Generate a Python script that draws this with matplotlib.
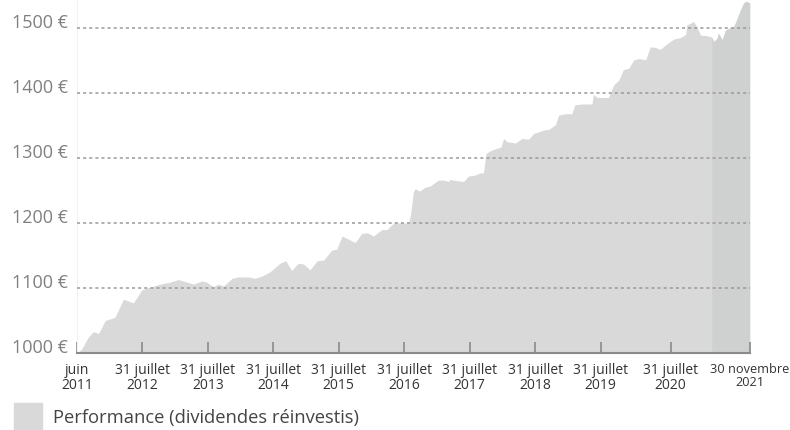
import matplotlib.pyplot as plt
from matplotlib.patches import Rectangle

plt.rcParams['font.family'] = ['Open Sans', 'DejaVu Sans']

# position sur l'axe (1 unité ~ 1 an à partir de juin 2011) et valeur du portefeuille (€)
pos = [0.00, 0.07, 0.17, 0.25, 0.33, 0.43, 0.58, 0.71, 0.86, 0.99,
       1.07, 1.27, 1.42, 1.55, 1.65, 1.78, 1.91, 1.98, 2.08, 2.16,
       2.24, 2.37, 2.47, 2.62, 2.72, 2.82, 2.95, 3.10, 3.19, 3.28,
       3.38, 3.46, 3.56, 3.67, 3.77, 3.89, 3.97, 4.05, 4.15, 4.25,
       4.35, 4.44, 4.53, 4.66, 4.74, 4.84, 4.94, 5.07, 5.10, 5.14,
       5.17, 5.23, 5.32, 5.40, 5.52, 5.60, 5.68, 5.70, 5.81, 5.91,
       5.98, 6.09, 6.16, 6.21, 6.25, 6.31, 6.42, 6.48, 6.52, 6.57,
       6.70, 6.80, 6.90, 6.98, 7.05, 7.13, 7.21, 7.31, 7.36, 7.46,
       7.56, 7.61, 7.72, 7.87, 7.89, 7.95, 8.12, 8.20, 8.28, 8.35,
       8.43, 8.51, 8.58, 8.69, 8.76, 8.84, 8.91, 9.02, 9.12, 9.22,
       9.30, 9.32, 9.37, 9.42, 9.46, 9.53, 9.63, 9.70, 9.73, 9.78,
       9.80, 9.86, 9.91, 9.98, 10.04, 10.09, 10.14, 10.19, 10.24, 10.28]
valeur = [1000, 1006, 1024, 1033, 1030, 1050, 1055, 1083, 1077, 1097,
          1100, 1106, 1109, 1113, 1110, 1106, 1111, 1109, 1102, 1106,
          1103, 1115, 1117, 1117, 1115, 1118, 1125, 1138, 1142, 1127,
          1138, 1137, 1128, 1142, 1143, 1158, 1160, 1180, 1175, 1170,
          1184, 1185, 1180, 1190, 1190, 1200, 1200, 1200, 1215, 1248,
          1253, 1249, 1255, 1257, 1266, 1266, 1264, 1267, 1265, 1264,
          1272, 1274, 1277, 1277, 1307, 1311, 1315, 1317, 1330, 1325,
          1323, 1330, 1329, 1338, 1340, 1343, 1344, 1351, 1366, 1368,
          1368, 1382, 1383, 1383, 1398, 1393, 1393, 1412, 1420, 1436,
          1438, 1451, 1453, 1451, 1471, 1470, 1467, 1476, 1483, 1485,
          1490, 1505, 1507, 1510, 1504, 1489, 1488, 1486, 1479, 1484,
          1492, 1482, 1497, 1500, 1503, 1515, 1528, 1539, 1541, 1538]

tick_pos = [0, 1.0, 2.0, 3.0, 4.0, 5.0, 6.0, 7.0, 8.0, 9.07, 10.28]
tick_labels = ['juin\n2011', '31 juillet\n2012', '31 juillet\n2013', '31 juillet\n2014',
               '31 juillet\n2015', '31 juillet\n2016', '31 juillet\n2017', '31 juillet\n2018',
               '31 juillet\n2019', '31 juillet\n2020', '30 novembre\n2021']
y_ticks = [1000, 1100, 1200, 1300, 1400, 1500]
debut_periode = 9.70  # début de la zone plus foncée

fig = plt.figure(figsize=(7.9, 4.3), dpi=100)
ax = fig.add_axes([0.0975, 0.179, 0.8515, 0.821])

ax.fill_between(pos, 1000, valeur, color='#d9d9d9', linewidth=0)
idx = [i for i, p in enumerate(pos) if p >= debut_periode]
ax.fill_between([pos[i] for i in idx], 1000, [valeur[i] for i in idx],
                color='#cfd1d1', linewidth=0)

for y in y_ticks[1:]:
    ax.axhline(y, color='#9a9a9a', linewidth=1.1, linestyle=(0, (2, 2)), zorder=3)

ax.set_xlim(0, 10.28)
ax.set_ylim(1000, 1543)

ax.set_yticks([])
for y in y_ticks:
    ax.text(-0.013, y, f'{y} €', transform=ax.get_yaxis_transform(),
            ha='right', va='baseline', fontsize=13, color='#808080')

ax.set_xticks(tick_pos)
ax.set_xticklabels(tick_labels, fontsize=10, color='#333333', linespacing=1.05)
ax.tick_params(axis='x', direction='in', length=8, width=1.2, color='#8a8a8a', pad=7)
# le dernier libellé touche le bord droit : un peu plus petit
ax.get_xticklabels()[-1].set_fontsize(9.2)

for s in ['top', 'right']:
    ax.spines[s].set_visible(False)
ax.spines['left'].set_color('#f2f2f2')
ax.spines['bottom'].set_color('#8a8a8a')
ax.spines['bottom'].set_linewidth(1.5)
ax.spines['bottom'].set_zorder(4)

# légende
fig.patches.append(Rectangle((14 / 790, 0), 28 / 790, 27 / 430,
                             transform=fig.transFigure, color='#d9d9d9'))
fig.text(53 / 790, 12 / 430, 'Performance (dividendes réinvestis)',
         fontsize=13.2, color='#444444', va='center', ha='left')

fig.savefig('out.png', dpi=100)
